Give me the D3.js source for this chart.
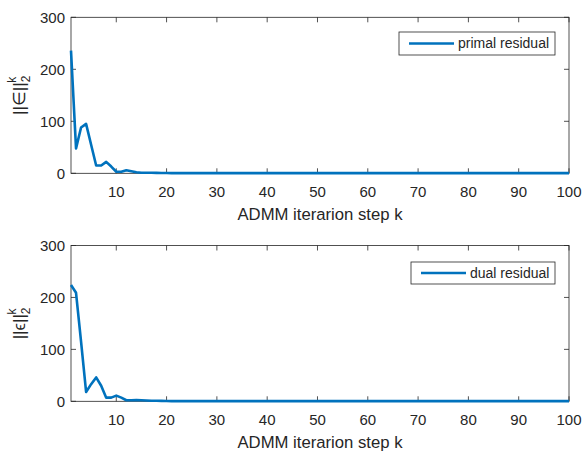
<!DOCTYPE html>
<html>
<head>
<meta charset="utf-8">
<script src="https://cdn.jsdelivr.net/npm/d3@7"></script>
<style>
  body { margin: 0; background: #fff; }
  text { font-family: "Liberation Sans", Arial, sans-serif; fill: #262626; }
</style>
</head>
<body>
<div id="chart"></div>
<script>
// iterations 1..100
var steps = d3.range(1, 101);

// primal residual
var primalHead = [236, 48, 88, 95, 55, 15, 15, 22, 13, 3, 3, 6, 4, 2, 1, 1, 1, 0.8, 0.6, 0.5];
// dual residual
var dualHead = [224, 209, 115, 18, 33, 46, 30, 7, 7, 11, 7, 2, 2, 2.5, 2, 1.5, 1.2, 1, 0.8, 0.6];

var xTicks = [10, 20, 30, 40, 50, 60, 70, 80, 90, 100];
var yTicks = [0, 100, 200, 300];

function fill(head) {
  return steps.map(function(k, i) { return i < head.length ? head[i] : 0.3; });
}
var primal = fill(primalHead);
var dual = fill(dualHead);

var svgWidth = 582;
var svgHeight = 454;

var svg = d3.select("#chart")
  .append("svg")
  .attr("width", svgWidth)
  .attr("height", svgHeight);

var left = 71, right = 569;

var panels = [
  { values: primal, top: 17.3, bottom: 173.3, legend: "primal residual", sym: "\u2208",
    box: [399, 32, 156, 23], tickY: 192, labelY: 214 },
  { values: dual, top: 245.5, bottom: 401.3, legend: "dual residual", sym: "\u03F5",
    box: [411, 262, 144, 22], tickY: 419.5, labelY: 442 }
];

var axisColor = "#262626";

panels.forEach(function(p) {
  var x = d3.scaleLinear().domain([1, 100]).range([left, right]);
  var y = d3.scaleLinear().domain([0, 300]).range([p.bottom, p.top]);
  var g = svg.append("g");

  // box
  g.append("rect")
    .attr("x", left).attr("y", p.top)
    .attr("width", right - left).attr("height", p.bottom - p.top)
    .attr("fill", "none").attr("stroke", axisColor).attr("stroke-width", 0.8);

  // ticks (inside, all four sides)
  xTicks.forEach(function(t) {
    g.append("line").attr("x1", x(t)).attr("x2", x(t)).attr("y1", p.bottom).attr("y2", p.bottom - 5)
      .attr("stroke", axisColor).attr("stroke-width", 0.8);
    g.append("line").attr("x1", x(t)).attr("x2", x(t)).attr("y1", p.top).attr("y2", p.top + 5)
      .attr("stroke", axisColor).attr("stroke-width", 0.8);
    g.append("text").attr("x", x(t)).attr("y", p.tickY).attr("dy", "0.35em")
      .attr("text-anchor", "middle").attr("font-size", 15).text(t);
  });
  yTicks.forEach(function(t) {
    g.append("line").attr("x1", left).attr("x2", left + 5).attr("y1", y(t)).attr("y2", y(t))
      .attr("stroke", axisColor).attr("stroke-width", 0.8);
    g.append("line").attr("x1", right).attr("x2", right - 5).attr("y1", y(t)).attr("y2", y(t))
      .attr("stroke", axisColor).attr("stroke-width", 0.8);
    g.append("text").attr("x", left - 6).attr("y", y(t)).attr("dy", "0.35em")
      .attr("text-anchor", "end").attr("font-size", 15).text(t);
  });

  // line
  var line = d3.line()
    .x(function(d, i) { return x(steps[i]); })
    .y(function(d) { return y(d); });
  g.append("path")
    .datum(p.values)
    .attr("d", line)
    .attr("fill", "none")
    .attr("stroke", "#0072BD")
    .attr("stroke-width", 2.6)
    .attr("stroke-linejoin", "round");

  // x label
  g.append("text")
    .attr("x", (left + right) / 2).attr("y", p.labelY).attr("dy", "0.35em")
    .attr("text-anchor", "middle").attr("font-size", 16.7)
    .text("ADMM iterarion step k");

  // y label
  var yl = g.append("text")
    .attr("transform", "translate(" + 25 + "," + ((p.top + p.bottom) / 2) + ") rotate(-90)")
    .attr("text-anchor", "middle").attr("font-size", 17);
  yl.append("tspan").text("||" + p.sym + "||");
  yl.append("tspan").attr("font-size", 12).attr("dy", 5).text("2");
  yl.append("tspan").attr("font-size", 12).attr("dx", -7).attr("dy", -14).text("k");

  // legend
  var b = p.box;
  g.append("rect")
    .attr("x", b[0]).attr("y", b[1]).attr("width", b[2]).attr("height", b[3])
    .attr("fill", "#fff").attr("stroke", axisColor).attr("stroke-width", 0.8);
  g.append("line")
    .attr("x1", b[0] + 10).attr("x2", b[0] + 55)
    .attr("y1", b[1] + b[3] / 2).attr("y2", b[1] + b[3] / 2)
    .attr("stroke", "#0072BD").attr("stroke-width", 2.6);
  g.append("text")
    .attr("x", b[0] + 59).attr("y", b[1] + b[3] / 2).attr("dy", "0.35em")
    .attr("font-size", 14).text(p.legend);
});
</script>
</body>
</html>
